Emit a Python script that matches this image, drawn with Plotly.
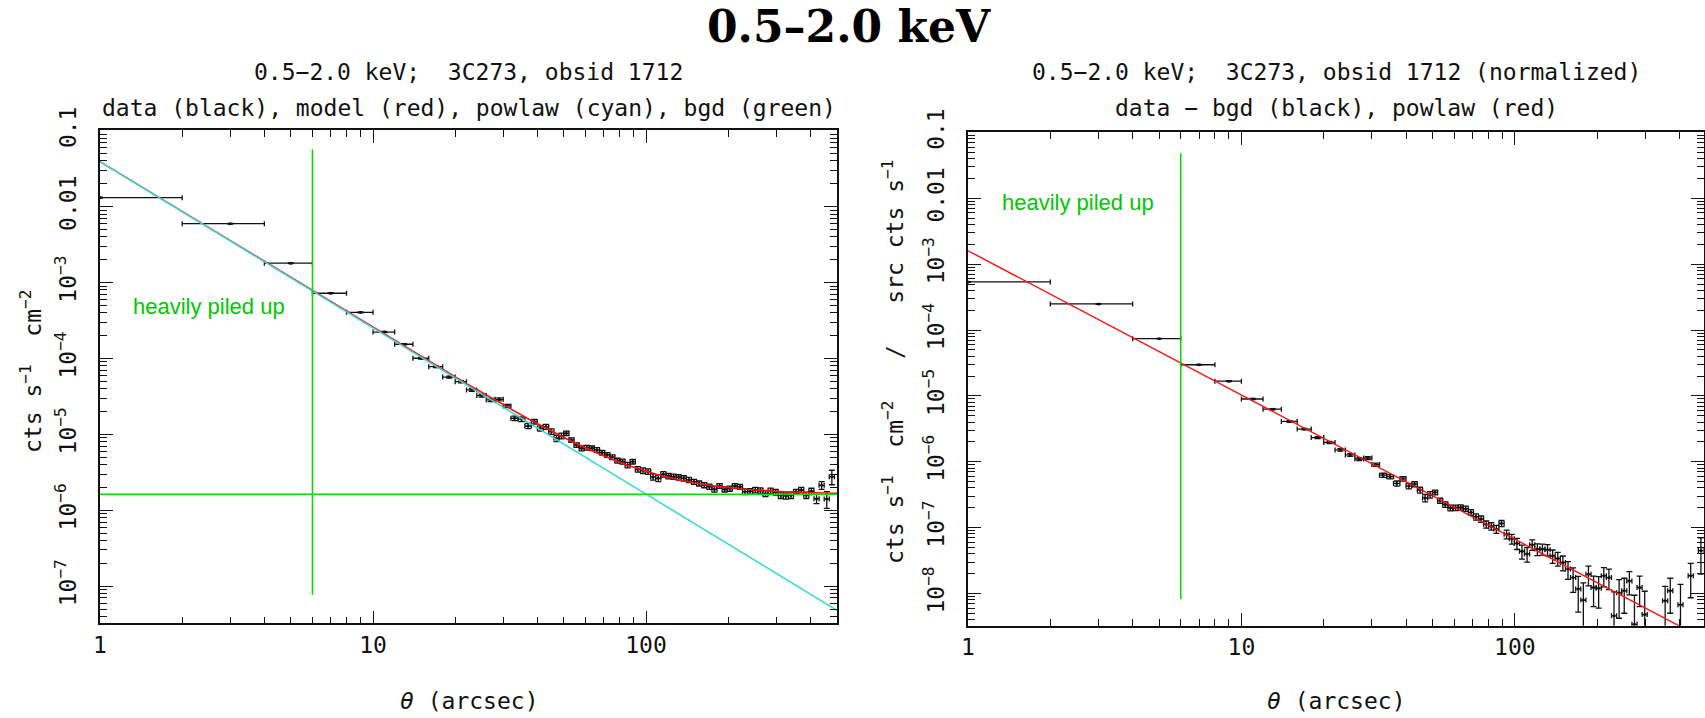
import plotly.graph_objects as go
import numpy as np

# ---------------- data ----------------
# radial bin centres (arcsec) and bin edges
theta = [1, 3, 5, 7, 9, 11, 13, 15, 17, 19, 21, 23, 25, 27, 29, 31, 33, 35, 37, 39, 41, 43, 45, 47, 49,
         51.1, 53.3, 55.7, 58.1, 60.7, 63.4, 66.1, 69.1, 72.1, 75.3,
         78.6, 82.0, 85.6, 89.4, 93.3, 97.5, 101.8, 106.2, 110.9, 115.8,
         120.9, 126.2, 131.7, 137.5, 143.6, 149.9, 156.5, 163.4, 170.6, 178.1,
         185.9, 194.1, 202.6, 211.6, 220.9, 230.6, 240.7, 251.3, 262.4, 273.9,
         286.0, 298.6, 311.7, 325.4, 339.8, 354.7, 370.3, 386.6, 403.6, 421.4,
         439.9, 459.3, 479.5]
edges = [0, 2, 4, 6, 8, 10, 12, 14, 16, 18, 20, 22, 24, 26, 28, 30, 32, 34, 36, 38, 40, 42, 44, 46, 48, 50,
         52.2, 54.5, 56.9, 59.4, 62.0, 64.7, 67.6, 70.6, 73.7, 76.9,
         80.3, 83.8, 87.5, 91.4, 95.4, 99.6, 104.0, 108.5, 113.3, 118.3,
         123.5, 128.9, 134.6, 140.5, 146.7, 153.2, 159.9, 167.0, 174.3, 182.0,
         190.0, 198.3, 207.1, 216.2, 225.7, 235.6, 246.0, 256.8, 268.1, 279.9,
         292.2, 305.1, 318.5, 332.5, 347.1, 362.4, 378.3, 395.0, 412.4, 430.5,
         449.5, 469.2, 489.9]

# left panel: surface brightness (cts s^-1 cm^-2)
left_y = [1.315e-2, 5.97e-3, 1.80e-3, 7.23e-4, 4.06e-4, 2.23e-4, 1.54e-4, 1.007e-4, 7.80e-5, 5.68e-5,
          4.94e-5, 3.85e-5, 3.24e-5, 2.84e-5, 2.90e-5, 2.37e-5, 1.63e-5, 1.585e-5, 1.29e-5, 1.47e-5,
          1.202e-5, 1.259e-5, 1.09e-5, 8.89e-6, 9.55e-6,
          1.033e-5, 8.43e-6, 7.24e-6, 6.56e-6, 6.68e-6, 6.56e-6, 6.24e-6, 5.75e-6, 5.37e-6, 5.01e-6,
          4.51e-6, 4.38e-6, 3.95e-6, 4.38e-6, 3.47e-6, 3.33e-6, 3.24e-6, 2.75e-6, 2.64e-6, 2.98e-6,
          2.82e-6, 2.77e-6, 2.72e-6, 2.64e-6, 2.51e-6, 2.38e-6, 2.26e-6, 2.15e-6, 2.05e-6, 1.89e-6,
          2.09e-6, 1.89e-6, 1.93e-6, 2.09e-6, 2.04e-6, 1.76e-6, 1.78e-6, 1.85e-6, 1.82e-6, 1.66e-6,
          1.81e-6, 1.74e-6, 1.58e-6, 1.55e-6, 1.58e-6, 1.76e-6, 1.85e-6, 1.58e-6, 1.78e-6, 1.42e-6,
          2.13e-6, 1.41e-6, 2.77e-6]
left_err = [1.5e-4, 6e-5, 2e-5, 1e-5, 6e-6, 4e-6, 3e-6, 2.5e-6, 2e-6, 1.8e-6,
            1.6e-6, 1.5e-6, 1.4e-6, 1.3e-6, 1.3e-6, 1.2e-6, 1.1e-6, 1.1e-6, 1e-6, 1e-6,
            9.5e-7, 9.5e-7, 9e-7, 8.5e-7, 8.5e-7,
            6.9e-7, 5.6e-7, 5.1e-7, 4.9e-7, 4.7e-7, 4.7e-7, 4.4e-7, 4.2e-7, 3.9e-7, 3.7e-7,
            3.4e-7, 3.3e-7, 3.2e-7, 3.1e-7, 2.9e-7, 2.8e-7, 2.7e-7, 2.6e-7, 2.5e-7, 2.5e-7,
            2.3e-7, 2.2e-7, 2.2e-7, 2.1e-7, 2e-7, 1.8e-7, 1.7e-7, 1.7e-7, 1.6e-7, 1.6e-7,
            1.5e-7, 1.5e-7, 1.5e-7, 1.5e-7, 1.5e-7, 1.5e-7, 1.5e-7, 1.5e-7, 1.5e-7, 1.5e-7,
            1.5e-7, 1.5e-7, 1.5e-7, 1.5e-7, 1.5e-7, 1.2e-7, 1.5e-7, 1.5e-7, 1.7e-7, 2e-7,
            2.5e-7, 3.5e-7, 6e-7]

# right panel: (data - bgd), normalized
right_y = [5.38e-4, 2.49e-4, 7.40e-5, 2.97e-5, 1.675e-5, 8.97e-6, 6.28e-6, 4.09e-6, 3.13e-6, 2.33e-6,
           1.96e-6, 1.51e-6, 1.27e-6, 1.10e-6, 1.135e-6, 9.04e-7, 6.24e-7, 5.93e-7, 4.68e-7, 5.50e-7,
           4.27e-7, 4.57e-7, 3.72e-7, 2.82e-7, 3.16e-7,
           3.42e-7, 2.56e-7, 2.24e-7, 2.00e-7, 2.00e-7, 2.02e-7, 1.94e-7, 1.70e-7, 1.46e-7, 1.35e-7,
           1.12e-7, 1.05e-7, 9.48e-8, 1.156e-7, 7.94e-8, 6.76e-8, 5.75e-8, 4.37e-8, 3.98e-8, 5.50e-8,
           4.71e-8, 4.71e-8, 4.62e-8, 3.72e-8, 3.39e-8, 2.95e-8, 2.34e-8, 1.74e-8, 1.17e-8, 7.94e-9,
           1.95e-8, 1.23e-8, 1.20e-8, 1.86e-8, 1.74e-8, 4.57e-9, 1.02e-8, 1.10e-8, 1.55e-8, 3.39e-9,
           1.23e-8, 4.79e-9, None, None, None, 7.76e-9, 1.10e-8, None, 6.76e-9, None,
           1.86e-8, None, 4.47e-8]
right_err = [5e-6, 2.5e-6, 8e-7, 4e-7, 2.5e-7, 1.8e-7, 1.4e-7, 1.1e-7, 9e-8, 8e-8,
             7e-8, 6.5e-8, 6e-8, 5.5e-8, 5.5e-8, 5e-8, 4.5e-8, 4.5e-8, 4.2e-8, 4.2e-8,
             4e-8, 4e-8, 3.8e-8, 3.6e-8, 3.6e-8,
             2.8e-8, 2.3e-8, 2.1e-8, 2e-8, 1.9e-8, 1.9e-8, 1.8e-8, 1.7e-8, 1.6e-8, 1.5e-8,
             1.4e-8, 1.35e-8, 1.3e-8, 1.25e-8, 1.2e-8, 1.15e-8, 1.1e-8, 1.05e-8, 1e-8, 1e-8,
             9.5e-9, 9e-9, 9e-9, 8.5e-9, 8e-9, 7.5e-9, 7e-9, 7e-9, 6.5e-9, 6.5e-9,
             6.5e-9, 6e-9, 6e-9, 6e-9, 6e-9, 6e-9, 6e-9, 6e-9, 6e-9, 6e-9,
             6e-9, 6e-9, 6e-9, 6e-9, 6e-9, 5e-9, 6e-9, 6e-9, 7e-9, 8e-9,
             1e-8, 1.5e-8, 2.5e-8]

# model parameters
powlaw_norm = 0.0392      # cyan line value at 1 arcsec (left)
powlaw_index = 2.19
bgd_level = 1.626e-6      # green horizontal line
norm_powlaw_norm = 1.6e-3 # red line value at 1 arcsec (right)
pileup_radius = 6.0
left_vline = [0.057, 7.65e-8]
right_vline = [0.0483, 8.2e-9]
theta_model = [1.0, 501.0]

x_tickvals = [1, 10, 100]
x_ticktext = ["1", "10", "100"]
yl_tickvals = [1e-1, 1e-2, 1e-3, 1e-4, 1e-5, 1e-6, 1e-7]
yl_ticktext = ["0.1", "0.01", "10<sup>−3</sup>", "10<sup>−4</sup>", "10<sup>−5</sup>",
               "10<sup>−6</sup>", "10<sup>−7</sup>"]
yr_tickvals = yl_tickvals + [1e-8]
yr_ticktext = yl_ticktext + ["10<sup>−8</sup>"]

# ---------------- derived ----------------
xm = [c - lo for c, lo in zip(theta, edges[:-1])]
xp = [hi - c for c, hi in zip(theta, edges[1:])]

tm = np.logspace(np.log10(theta_model[0]), np.log10(theta_model[1]), 300)
pl_left = powlaw_norm * tm ** (-powlaw_index)
model_left = pl_left + bgd_level
pl_right = norm_powlaw_norm * tm ** (-powlaw_index)

W, H = 1705, 718
MONO = "DejaVu Sans Mono"
INK = "#111111"
GREEN = "#00dd00"
GREEN_TXT = "#00c800"
CYAN = "#30dada"
RED = "#ff1010"


def px(x):
    return x / W


def py(y):
    return 1 - y / H


fig = go.Figure()


def data_trace(y, err, xa, ya):
    return go.Scatter(
        x=theta, y=y, mode="markers", xaxis=xa, yaxis=ya,
        marker=dict(size=3, color=INK),
        error_x=dict(type="data", symmetric=False, array=xp, arrayminus=xm,
                     color=INK, thickness=1.3, width=2.5),
        error_y=dict(type="data", array=err, color=INK, thickness=1.3, width=3),
        showlegend=False, hoverinfo="skip")


# left panel
fig.add_trace(data_trace(left_y, left_err, "x", "y"))
fig.add_trace(go.Scatter(x=tm, y=model_left, mode="lines", line=dict(color=RED, width=1.6),
                         xaxis="x", yaxis="y", showlegend=False))
fig.add_trace(go.Scatter(x=tm, y=pl_left, mode="lines", line=dict(color=CYAN, width=1.5),
                         xaxis="x", yaxis="y", showlegend=False))
fig.add_trace(go.Scatter(x=theta_model, y=[bgd_level, bgd_level], mode="lines",
                         line=dict(color=GREEN, width=1.5), xaxis="x", yaxis="y", showlegend=False))
fig.add_trace(go.Scatter(x=[pileup_radius, pileup_radius], y=left_vline, mode="lines",
                         line=dict(color=GREEN, width=1.5), xaxis="x", yaxis="y", showlegend=False))

# right panel
fig.add_trace(data_trace(right_y, right_err, "x2", "y2"))
fig.add_trace(go.Scatter(x=tm, y=pl_right, mode="lines", line=dict(color=RED, width=1.4),
                         xaxis="x2", yaxis="y2", showlegend=False))
fig.add_trace(go.Scatter(x=[pileup_radius, pileup_radius], y=right_vline, mode="lines",
                         line=dict(color=GREEN, width=1.5), xaxis="x2", yaxis="y2", showlegend=False))

minor_x = [k * 10 ** n for n in range(0, 3) for k in range(2, 10)]
minor_y = [k * 10 ** n for n in range(-9, 0) for k in range(2, 10)]


def ax_common():
    return dict(type="log", showgrid=False, zeroline=False, showline=True, automargin=False,
                linecolor=INK, linewidth=1.5, mirror="allticks",
                ticks="inside", ticklen=13, tickwidth=1.2, tickcolor=INK,
                tickmode="array",
                tickfont=dict(family=MONO, size=23, color=INK),
                minor=dict(ticks="inside", ticklen=7, tickwidth=1.2, tickcolor=INK,
                           tickmode="array", showgrid=False))


def xcfg(domain, anchor, rng):
    d = ax_common()
    d.update(domain=domain, anchor=anchor, range=rng, tickvals=x_tickvals, ticktext=x_ticktext,
             ticklabelstandoff=0)
    d["minor"]["tickvals"] = minor_x
    return d


def ycfg(domain, anchor, rng, tv, tt):
    d = ax_common()
    d.update(domain=domain, anchor=anchor, range=rng, tickvals=tv, ticktext=tt,
             tickangle=-90, ticklabelstandoff=13)
    d["minor"]["tickvals"] = minor_y
    return d


fig.update_layout(
    width=W, height=H, margin=dict(l=0, r=0, t=0, b=0, autoexpand=False),
    paper_bgcolor="white", plot_bgcolor="white", showlegend=False,
    xaxis=xcfg([px(100), px(837)], "y", [0, 2.6996]),
    yaxis=ycfg([py(623.3), py(130)], "x", [-7.489, -0.99], yl_tickvals, yl_ticktext),
    xaxis2=xcfg([px(968), px(1703.6)], "y2", [0, 2.6905]),
    yaxis2=ycfg([py(625.7), py(132.3)], "x2", [-8.49, -0.997], yr_tickvals, yr_ticktext),
)


def ann(text, x, y, size=23, family=MONO, color=INK, angle=0, **kw):
    fig.add_annotation(text=text, x=px(x), y=py(y), xref="paper", yref="paper", showarrow=False,
                       font=dict(family=family, size=size, color=color), textangle=angle,
                       xanchor="center", yanchor="middle", **kw)


ann("<b>0.5–2.0 keV</b>", 849, 26, size=44, family="DejaVu Serif", color="#000")
lc, rc = 468.5, 1336
ann("0.5−2.0 keV;  3C273, obsid 1712", lc, 72)
ann("data (black), model (red), powlaw (cyan), bgd (green)", lc, 108)
ann("0.5−2.0 keV;  3C273, obsid 1712 (normalized)", rc, 72)
ann("data − bgd (black), powlaw (red)", rc, 108)
ann("cts s<sup>−1</sup>  cm<sup>−2</sup>", 31, 372, angle=-90)
ann("cts s<sup>−1</sup>  cm<sup>−2</sup>   /   src cts s<sup>−1</sup>", 893, 362, angle=-90)
ann("<i>θ</i> (arcsec)", lc, 701)
ann("<i>θ</i> (arcsec)", rc, 701)
ann("heavily piled up", 208.9, 306, size=22, family="Liberation Sans", color=GREEN_TXT)
ann("heavily piled up", 1077.5, 203, size=22, family="Liberation Sans", color=GREEN_TXT)

# the page body is given no margin so the figure sits at the window's top-left corner
fig.write_html("out.html", config={"displayModeBar": False},
               post_script="document.body.style.margin='0';document.body.style.overflow='hidden';")
